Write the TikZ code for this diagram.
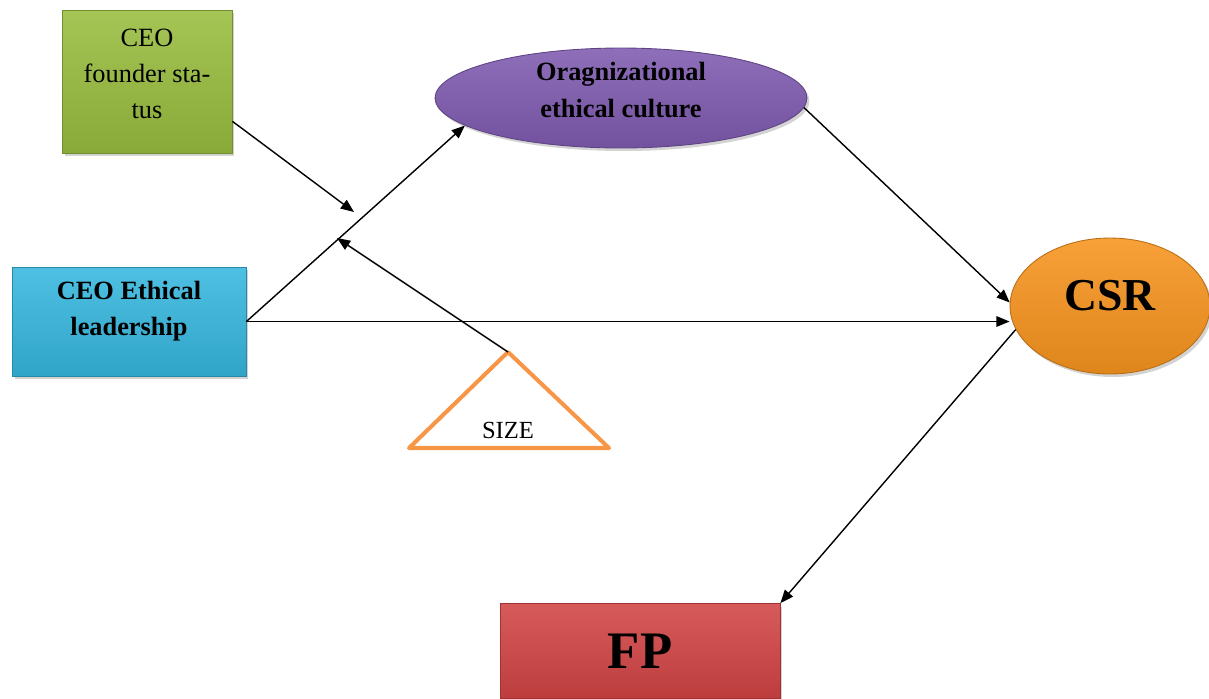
\documentclass[tikz,border=0pt]{standalone}
\usepackage{fontspec}
\setmainfont{Liberation Serif}
\usetikzlibrary{arrows.meta,shapes.geometric,shadows}
\definecolor{fsgreen}{HTML}{98BD3E}
\definecolor{elblue}{HTML}{36B7DE}
\definecolor{ocpurple}{HTML}{7F5BB0}
\definecolor{csrorange}{HTML}{F7941E}
\definecolor{fpred}{HTML}{D24444}
\definecolor{sizeorange}{HTML}{F79646}
\begin{document}
\begin{tikzpicture}[x=0.02cm,y=-0.02cm,
    box/.style={draw=#1!75!black, line width=0.5pt, top color=#1!88!white, bottom color=#1!90!black,
        inner sep=0pt, align=center,
        drop shadow={shadow xshift=0.05cm, shadow yshift=-0.06cm, opacity=0.35}},
    arr/.style={-{Triangle[length=7.5pt,width=6pt]}, line width=0.8pt}]
    \useasboundingbox (0,0) rectangle (1209,698);

    % Boxes and ellipses
    \node[box=fsgreen, rectangle, minimum width=3.4cm, minimum height=2.86cm] (founder) at (147,81.5) {};
    \node[font=\fontsize{15}{20.5}\selectfont, align=center] (foundertext) at (147,74) {CEO\\founder sta-\\tus};
    \node[box=elblue, rectangle, minimum width=4.68cm, minimum height=2.18cm] (ceo) at (129,321.5) {};
    \node[font=\fontsize{15}{20.5}\selectfont\bfseries, align=center] (ceotext) at (129,311) {CEO Ethical\\leadership};
    \node[box=ocpurple, ellipse, minimum width=7.44cm, minimum height=2cm] (org) at (621,98) {};
    \node[font=\fontsize{15}{20.5}\selectfont\bfseries, align=center] (orgtext) at (621,90) {Oragnizational\\ethical culture};
    \node[box=csrorange, ellipse, minimum width=4cm, minimum height=2.72cm] (csr) at (1110,306) {};
    \node[font=\fontsize{26}{28}\selectfont\bfseries] (csrtext) at (1110,296) {CSR};
    \node[box=fpred, rectangle, minimum width=5.6cm, minimum height=1.9cm,
        font=\fontsize{30}{32}\selectfont\bfseries] (fp) at (640,651) {FP};

    % Moderator
    \coordinate (apex) at (508,352);
    \draw[sizeorange, line width=2.3pt, line join=round] (apex) -- (409,448) -- (609,448) -- cycle;
    \node[font=\fontsize{14}{16}\selectfont] (size) at (508,430) {SIZE};

    % Paths
    \coordinate (modA) at (354,212);
    \coordinate (modB) at (337,238);
    \draw[arr] (founder.-25) -- (modA);
    \draw[arr] (apex) -- (modB);
    \draw[arr] (ceo.east) -- (org.190);
    \draw[arr] (ceo.east) -- (ceo.east -| csr.west);
    \draw[arr] (org.-3) -- (csr.178);
    \draw[arr] (csr.194) -- (fp.north east);
\end{tikzpicture}
\end{document}
